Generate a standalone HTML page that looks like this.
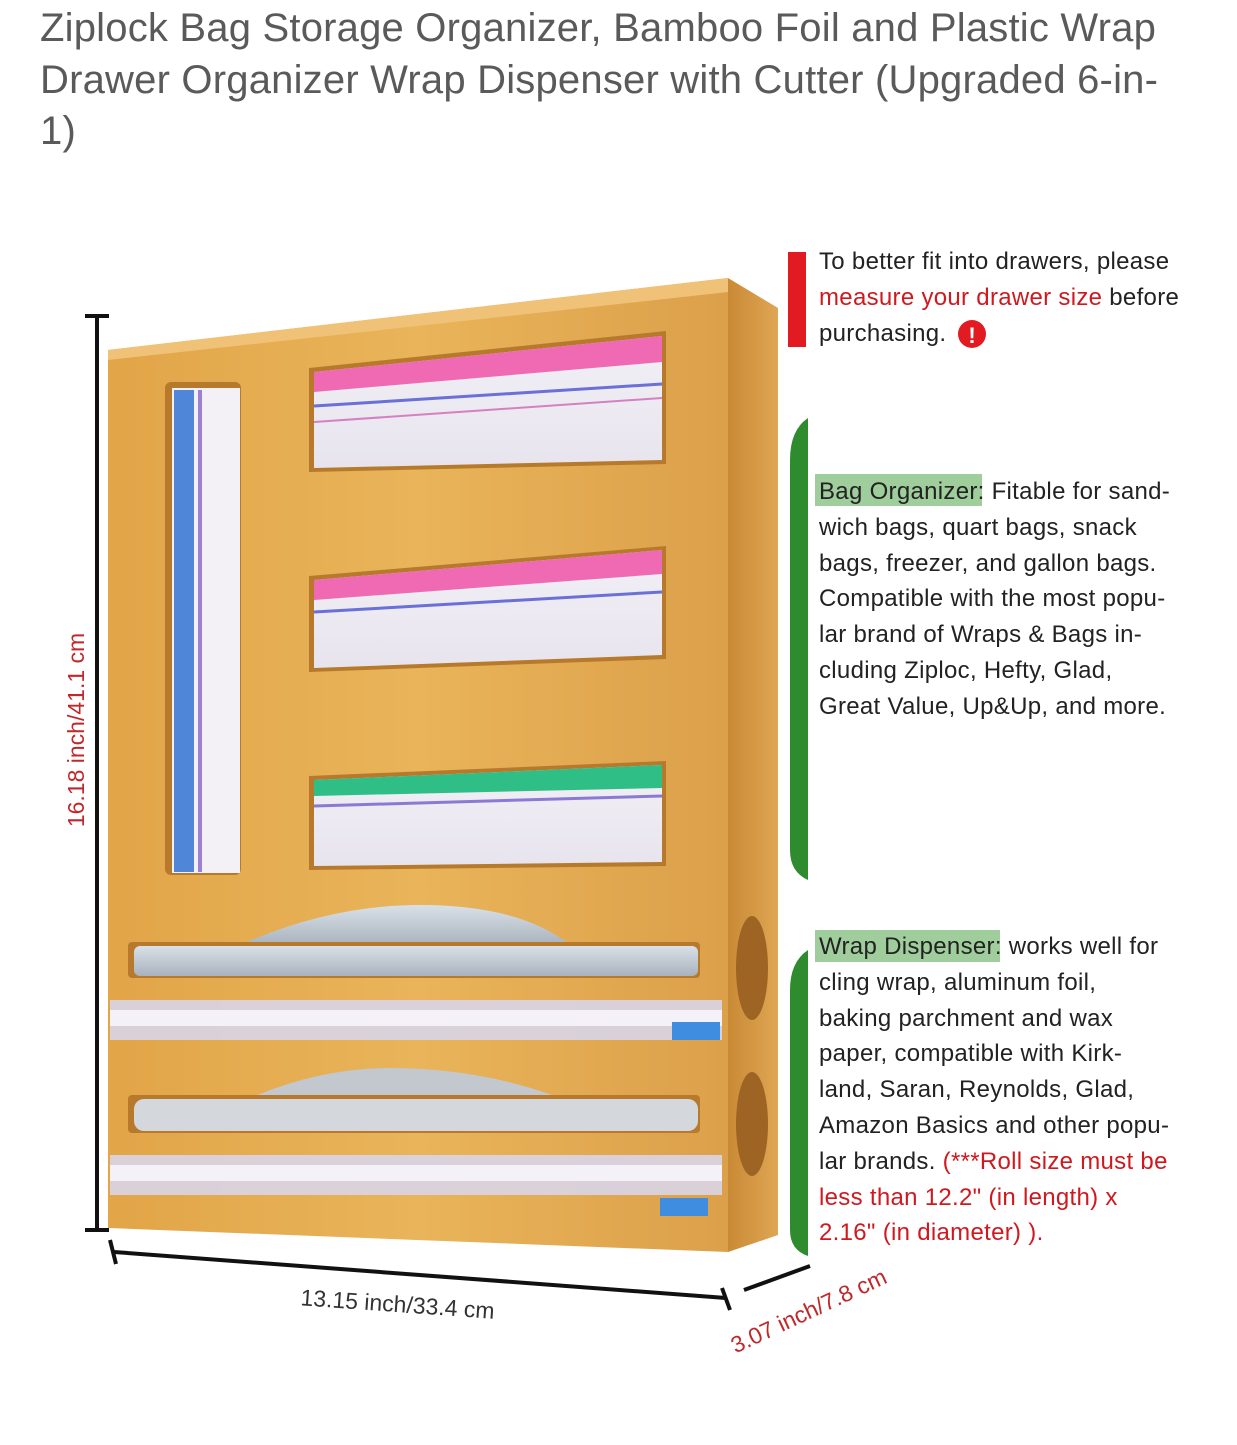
<!DOCTYPE html>
<html><head><meta charset="utf-8"><style>
html,body{margin:0;padding:0;background:#fff;}
body{width:1237px;height:1440px;overflow:hidden;font-family:"Liberation Sans","DejaVu Sans",sans-serif;}
</style></head><body>
<svg width="1237" height="1440" viewBox="0 0 1237 1440" xmlns="http://www.w3.org/2000/svg">
<defs>
<linearGradient id="wood" x1="0" y1="0" x2="1" y2="0">
<stop offset="0" stop-color="#e2a548"/><stop offset="0.5" stop-color="#e9b45a"/><stop offset="1" stop-color="#dca04a"/></linearGradient>
<linearGradient id="side" x1="0" y1="0" x2="1" y2="0"><stop offset="0" stop-color="#c98a35"/><stop offset="1" stop-color="#dfa653"/></linearGradient>
<linearGradient id="bag" x1="0" y1="0" x2="0" y2="1"><stop offset="0" stop-color="#f2f0f6"/><stop offset="1" stop-color="#e7e4ee"/></linearGradient>
<linearGradient id="foil" x1="0" y1="0" x2="0" y2="1"><stop offset="0" stop-color="#d9e0e8"/><stop offset="1" stop-color="#a9b3bd"/></linearGradient>
</defs>
<g font-size="40" fill="#5a5a5a" letter-spacing="0.2">
<text x="40" y="41">Ziplock Bag Storage Organizer, Bamboo Foil and Plastic Wrap</text>
<text x="40" y="93">Drawer Organizer Wrap Dispenser with Cutter (Upgraded 6-in-</text>
<text x="40" y="144">1)</text>
</g>
<polygon points="728,278 778,308 778,1235 728,1252" fill="url(#side)"/>
<polygon points="108,350 728,278 728,1252 108,1228" fill="url(#wood)"/>
<polygon points="108,350 728,278 728,292 108,360" fill="#f0c277"/>
<rect x="165" y="382" width="76" height="493" rx="6" fill="#b77a2c"/>
<rect x="172" y="388" width="68" height="485" fill="#f4f1f6"/>
<rect x="174" y="390" width="20" height="482" fill="#4f86d8"/>
<rect x="198" y="390" width="4" height="482" fill="#9b80d4"/>
<g>
<polygon points="309,368 666,331 666,464 309,472" fill="#b77a2c"/>
<polygon points="314,372 662,336 662,460 314,468" fill="url(#bag)"/>
<polygon points="314,372 662,336 662,362 314,392" fill="#ef6ab2"/>
<line x1="314" y1="406" x2="662" y2="384" stroke="#6b6fd8" stroke-width="3"/>
<line x1="314" y1="422" x2="662" y2="398" stroke="#d580c0" stroke-width="2"/>
<polygon points="309,576 666,546 666,659 309,672" fill="#b77a2c"/>
<polygon points="314,580 662,550 662,655 314,668" fill="url(#bag)"/>
<polygon points="314,580 662,550 662,574 314,600" fill="#ef6ab2"/>
<line x1="314" y1="612" x2="662" y2="592" stroke="#6b6fd8" stroke-width="3"/>
<polygon points="309,776 666,761 666,866 309,870" fill="#b77a2c"/>
<polygon points="314,780 662,765 662,862 314,866" fill="url(#bag)"/>
<polygon points="314,780 662,765 662,788 314,796" fill="#2fbf86"/>
<line x1="314" y1="806" x2="662" y2="796" stroke="#8a7ad4" stroke-width="3"/>
</g>
<path d="M240,945 Q330,905 420,905 Q520,905 570,945 Z" fill="url(#foil)"/>
<rect x="128" y="942" width="572" height="36" rx="4" fill="#b77a2c"/>
<rect x="134" y="946" width="564" height="30" rx="6" fill="url(#foil)"/>
<rect x="110" y="1000" width="612" height="40" fill="#d8d5e8" opacity="0.9"/>
<rect x="110" y="1010" width="612" height="16" fill="#f4f2f8"/>
<rect x="672" y="1022" width="48" height="18" fill="#3f8de0"/>
<path d="M250,1098 Q320,1068 390,1068 Q480,1068 560,1098 Z" fill="#c3c8cf"/>
<rect x="128" y="1095" width="572" height="38" rx="4" fill="#b77a2c"/>
<rect x="134" y="1099" width="564" height="32" rx="10" fill="#d4d8dd"/>
<rect x="110" y="1155" width="612" height="40" fill="#d8d5e8" opacity="0.9"/>
<rect x="110" y="1165" width="612" height="16" fill="#f4f2f8"/>
<rect x="660" y="1198" width="48" height="18" fill="#3f8de0"/>
<ellipse cx="752" cy="968" rx="16" ry="52" fill="#9e6424"/>
<ellipse cx="752" cy="1124" rx="16" ry="52" fill="#9e6424"/>
<g stroke="#111" stroke-width="4" fill="none">
<line x1="97" y1="316" x2="97" y2="1230"/>
<line x1="85" y1="316" x2="109" y2="316"/>
<line x1="85" y1="1230" x2="109" y2="1230"/>
<line x1="114" y1="1252" x2="726" y2="1298"/>
<line x1="110" y1="1240" x2="116" y2="1264"/>
<line x1="722" y1="1288" x2="730" y2="1310"/>
<line x1="744" y1="1290" x2="810" y2="1266"/>
</g>
<text transform="translate(84,730) rotate(-90)" text-anchor="middle" font-size="23" fill="#c0282b">16.18 inch/41.1 cm</text>
<text transform="translate(397,1312) rotate(4)" text-anchor="middle" font-size="23" fill="#333">13.15 inch/33.4 cm</text>
<text transform="translate(812,1318) rotate(-25)" text-anchor="middle" font-size="23" fill="#c0282b">3.07 inch/7.8 cm</text>
<rect x="788" y="252" width="18" height="95" fill="#e21b23"/>
<path d="M808,418 Q790,430 790,460 L790,850 Q790,872 808,880 Z" fill="#2e8b2e"/>
<path d="M808,950 Q790,962 790,990 L790,1230 Q790,1250 808,1256 Z" fill="#2e8b2e"/>
<rect x="815" y="474" width="167" height="32" fill="#9fce9c"/>
<rect x="815" y="930" width="185" height="32" fill="#9fce9c"/>
<g font-size="24" fill="#222" letter-spacing="0.3">
<text x="819" y="269">To better fit into drawers, please</text>
<text x="819" y="305"><tspan fill="#d0191f">measure your drawer size</tspan> before</text>
<text x="819" y="341">purchasing.</text>
<text x="819" y="499">Bag Organizer: Fitable for sand-</text>
<text x="819" y="535">wich bags, quart bags, snack</text>
<text x="819" y="571">bags, freezer, and gallon bags.</text>
<text x="819" y="606">Compatible with the most popu-</text>
<text x="819" y="642">lar brand of Wraps &amp; Bags in-</text>
<text x="819" y="678">cluding Ziploc, Hefty, Glad,</text>
<text x="819" y="714">Great Value, Up&amp;Up, and more.</text>
<text x="819" y="954">Wrap Dispenser: works well for</text>
<text x="819" y="990">cling wrap, aluminum foil,</text>
<text x="819" y="1026">baking parchment and wax</text>
<text x="819" y="1061">paper, compatible with Kirk-</text>
<text x="819" y="1097">land, Saran, Reynolds, Glad,</text>
<text x="819" y="1133">Amazon Basics and other popu-</text>
<text x="819" y="1169">lar brands. <tspan fill="#d0191f">(***Roll size must be</tspan></text>
<text x="819" y="1205" fill="#d0191f">less than 12.2" (in length) x</text>
<text x="819" y="1240" fill="#d0191f">2.16" (in diameter) ).</text>
</g>
<circle cx="972" cy="334" r="14" fill="#e21b23"/>
<text x="972" y="343" text-anchor="middle" font-size="22" font-weight="bold" fill="#fff">!</text>
</svg>
</body></html>
